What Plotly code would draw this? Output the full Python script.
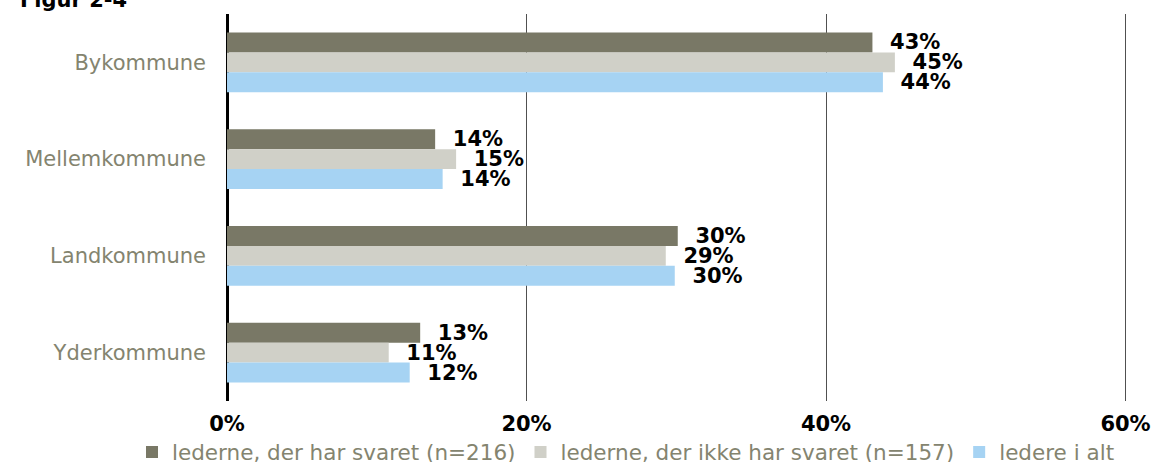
import plotly.graph_objects as go

categories = ["Bykommune", "Mellemkommune", "Landkommune", "Yderkommune"]
series_names = [
    "lederne, der har svaret (n=216)",
    "lederne, der ikke har svaret (n=157)",
    "ledere i alt",
]
svaret = [43.1, 13.9, 30.1, 12.9]
ikke_svaret = [44.6, 15.3, 29.3, 10.8]
i_alt = [43.8, 14.4, 29.9, 12.2]
colors = ["#797866", "#d0d0c8", "#a6d3f3"]
tick_vals = [0, 20, 40, 60]
tick_text = ["0%", "20%", "40%", "60%"]

fig = go.Figure()
for name, vals, col in zip(series_names, [svaret, ikke_svaret, i_alt], colors):
    fig.add_trace(go.Bar(
        y=categories, x=vals, name=name, orientation="h",
        marker=dict(color=col, line=dict(width=0)),
        texttemplate="\u00a0\u00a0%{x:.0f}%", textposition="outside",
        textfont=dict(family="DejaVu Sans", size=21, color="black", weight="bold"),
        constraintext="none", cliponaxis=False,
    ))

fig.update_layout(
    width=1155, height=462,
    margin=dict(l=227, r=25, t=14, b=61, autoexpand=False),
    paper_bgcolor="white", plot_bgcolor="white",
    barmode="group", bargap=0.38, bargroupgap=0,
    font=dict(family="DejaVu Sans", color="#84846f"),
    legend=dict(orientation="h", xref="paper", yref="paper",
                x=(132 - 227) / 903, xanchor="left",
                y=-(452 - 401) / 387, yanchor="middle",
                font=dict(size=21.5, color="#84846f"), itemwidth=30,
                traceorder="normal", tracegroupgap=0),
    showlegend=True,
)
fig.update_xaxes(
    range=[0, 60.3], tickvals=tick_vals, ticktext=tick_text,
    showgrid=True, gridcolor="#505050", gridwidth=1,
    zeroline=True, zerolinecolor="black", zerolinewidth=3,
    tickfont=dict(family="DejaVu Sans", size=21, color="black", weight="bold"),
    ticklabelstandoff=8, showline=False,
)
fig.update_yaxes(
    autorange="reversed", tickfont=dict(size=21, color="#84846f"),
    ticklabelstandoff=20, showgrid=False,
)
fig.add_annotation(
    text="<b>Figur 2-4</b>", xref="paper", yref="paper",
    x=-(227 - 18) / 903, xanchor="left", y=1 + 14 / 387, yanchor="middle",
    showarrow=False, font=dict(size=21, color="black", family="DejaVu Sans"),
)
fig.write_html(
    "out.html",
    config={"displayModeBar": False},
    post_script="document.body.style.margin='0';document.body.style.padding='0';",
)
